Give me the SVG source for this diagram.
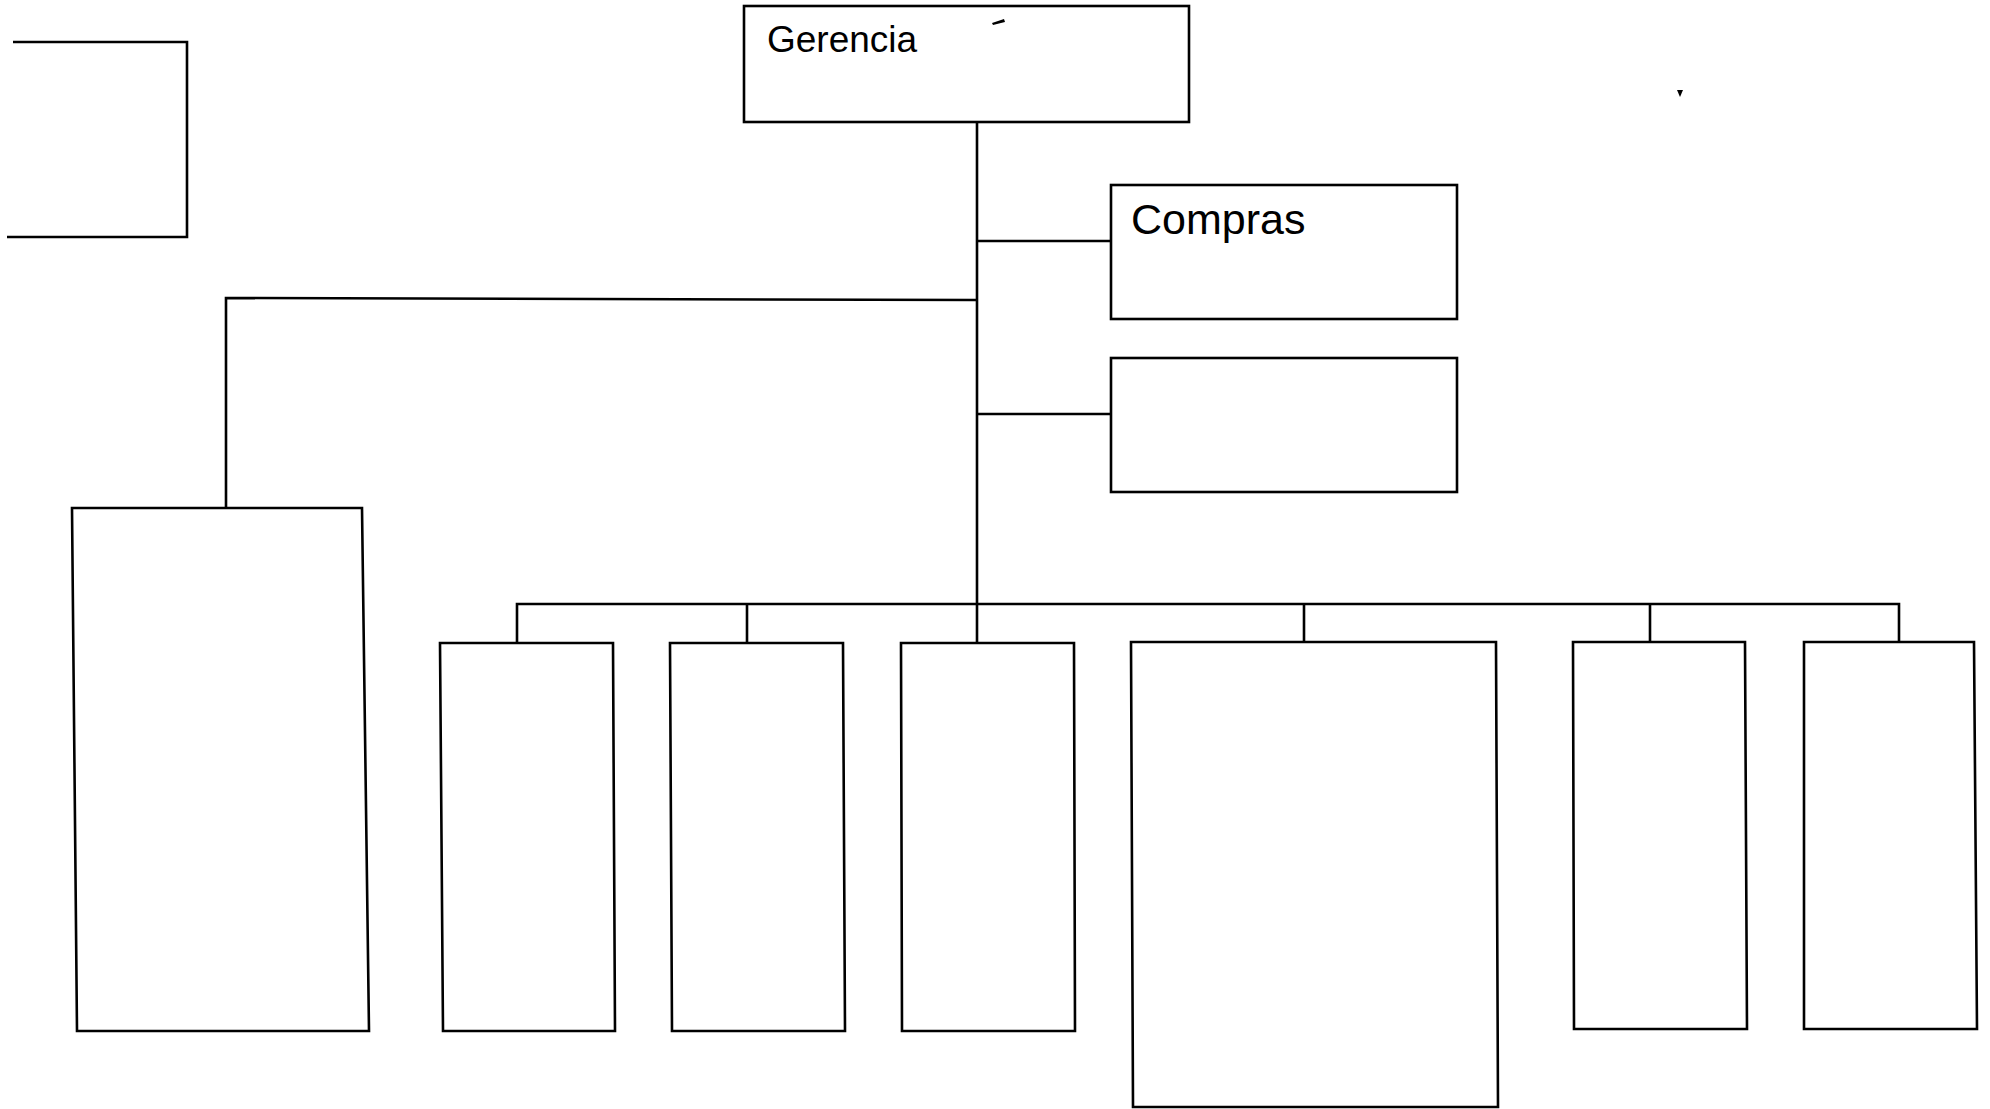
<svg xmlns="http://www.w3.org/2000/svg" width="1990" height="1109" viewBox="0 0 1990 1109">
  <style>
    .box { fill: none; stroke: #000; stroke-width: 2.6; stroke-linejoin: miter; }
    .wire { fill: none; stroke: #000; stroke-width: 2.6; }
    .label { font-family: "Liberation Sans", Arial, sans-serif; fill: #000; }
  </style>
  <rect width="1990" height="1109" fill="#fff"/>

  <!-- connectors -->
  <g id="connectors" class="wire">
    <!-- main trunk from Gerencia -->
    <path d="M977,122 V643"/>
    <!-- side branches to staff boxes -->
    <path d="M976,241 H1111"/>
    <path d="M976,414 H1111"/>
    <!-- left branch -->
    <path d="M976,300 L226,298 V508"/>
    <!-- lower bus and drops -->
    <path d="M517,642 V604 H1899 V642"/>
    <path d="M747,604 V643"/>
    <path d="M1304,604 V642"/>
    <path d="M1650,604 V642"/>
  </g>

  <!-- nodes -->
  <g id="node-partial-left">
    <path class="box" d="M13,42 H187 V237 H7"/>
  </g>
  <g id="node-gerencia">
    <rect class="box" x="744" y="6" width="445" height="116"/>
    <text class="label" x="767" y="52" font-size="37">Gerencia</text>
  </g>
  <g id="node-compras">
    <rect class="box" x="1111" y="185" width="346" height="134"/>
    <text class="label" x="1131" y="234" font-size="43">Compras</text>
  </g>
  <g id="node-staff-2">
    <rect class="box" x="1111" y="358" width="346" height="134"/>
  </g>
  <g id="node-left">
    <polygon class="box" points="72,508 362,508 369,1031 77,1031"/>
  </g>
  <g id="node-b1">
    <polygon class="box" points="440,643 613,643 615,1031 443,1031"/>
  </g>
  <g id="node-b2">
    <polygon class="box" points="670,643 843,643 845,1031 672,1031"/>
  </g>
  <g id="node-b3">
    <polygon class="box" points="901,643 1074,643 1075,1031 902,1031"/>
  </g>
  <g id="node-b4">
    <polygon class="box" points="1131,642 1496,642 1498,1107 1133,1107"/>
  </g>
  <g id="node-b5">
    <polygon class="box" points="1573,642 1745,642 1747,1029 1574,1029"/>
  </g>
  <g id="node-b6">
    <polygon class="box" points="1804,642 1974,642 1977,1029 1804,1029"/>
  </g>

  <!-- small print marks -->
  <g id="marks" fill="#000">
    <path d="M992,23 L1004,19 L1005,22 L993,25 Z"/>
    <path d="M1677,90 L1683,90 L1680,97 Z"/>
  </g>
</svg>
